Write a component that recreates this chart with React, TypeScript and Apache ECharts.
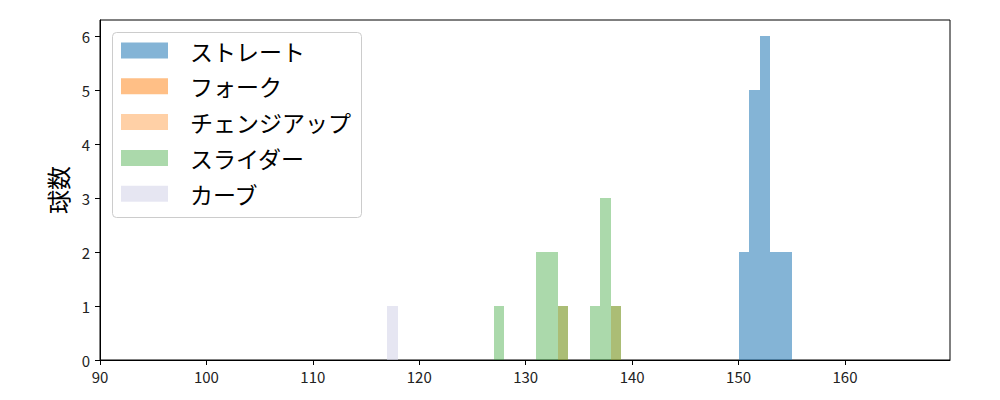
import React, { useEffect, useRef } from "react";
import * as echarts from "echarts";

const seriesNames = ["ストレート", "フォーク", "チェンジアップ", "スライダー", "カーブ"];
const seriesColors = [
  "rgba(31,119,180,0.55)",
  "rgba(255,127,14,0.5)",
  "rgba(255,127,14,0.37)",
  "rgba(44,160,44,0.4)",
  "rgba(214,214,234,0.6)",
];
const binWidth = 1;
const straightBins = [150, 151, 152, 153, 154];
const straightCounts = [2, 5, 6, 2, 2];
const forkBins: number[] = [];
const forkCounts: number[] = [];
const changeupBins = [133, 138];
const changeupCounts = [1, 1];
const sliderBins = [127, 131, 132, 133, 136, 137, 138];
const sliderCounts = [1, 2, 2, 1, 1, 3, 1];
const curveBins = [117];
const curveCounts = [1];
const xTicks = [90, 100, 110, 120, 130, 140, 150, 160];
const yTicks = [0, 1, 2, 3, 4, 5, 6];

const allBins = [straightBins, forkBins, changeupBins, sliderBins, curveBins];
const allCounts = [straightCounts, forkCounts, changeupCounts, sliderCounts, curveCounts];

const FONT = "'Noto Sans CJK JP', 'DejaVu Sans', sans-serif";

export default function App() {
  const ref = useRef<HTMLDivElement>(null);
  useEffect(() => {
    if (!ref.current) return;
    const chart = echarts.init(ref.current, null, { renderer: "svg" });
    const series = seriesNames.map((name, i) => {
      const color = seriesColors[i];
      return {
        name,
        type: "custom",
        itemStyle: { color },
        data: allBins[i].map((b, j) => [b, b + binWidth, allCounts[i][j]]),
        encode: { x: [0, 1], y: 2 },
        renderItem: (params: any, api: any) => {
          const p0 = api.coord([api.value(0), 0]);
          const p1 = api.coord([api.value(1), api.value(2)]);
          const x0 = Math.round(p0[0]);
          const x1 = Math.round(p1[0]);
          const y0 = Math.round(p0[1]);
          const y1 = Math.round(p1[1]);
          return {
            type: "rect",
            shape: { x: x0, y: y1, width: x1 - x0, height: y0 - y1 },
            style: { fill: color },
          };
        },
      };
    });
    chart.setOption({
      animation: false,
      textStyle: { fontFamily: FONT },
      grid: {
        left: 100,
        right: 50,
        top: 20,
        bottom: 40,
        show: true,
        borderColor: "#000",
        borderWidth: 1,
        backgroundColor: "transparent",
      },
      xAxis: {
        type: "value",
        min: xTicks[0],
        max: 169.87,
        interval: 10,
        axisLine: { show: true, lineStyle: { color: "#000", width: 1 } },
        axisTick: { show: true, inside: false, length: 5, lineStyle: { color: "#000" } },
        axisLabel: { color: "#222", fontSize: 15, margin: 9, fontFamily: FONT, showMaxLabel: false },
        splitLine: { show: false },
      },
      yAxis: {
        type: "value",
        min: yTicks[0],
        max: 6.3,
        interval: 1,
        name: "球数",
        nameLocation: "middle",
        nameGap: 31,
        nameTextStyle: { fontSize: 24, color: "#000", fontFamily: FONT },
        axisLine: { show: true, lineStyle: { color: "#000", width: 1 } },
        axisTick: { show: true, inside: false, length: 5, lineStyle: { color: "#000" } },
        axisLabel: { color: "#222", fontSize: 15, margin: 10, fontFamily: FONT, showMaxLabel: false },
        splitLine: { show: false },
      },
      legend: {
        orient: "vertical",
        left: 121,
        top: 39,
        padding: 0,
        itemWidth: 47,
        itemHeight: 16,
        itemGap: 12.8,
        icon: "rect",
        data: seriesNames,
        textStyle: { fontSize: 23, lineHeight: 23, color: "#000", fontFamily: FONT, padding: [0, 0, 0, 17] },
        selectedMode: false,
      },
      graphic: [
        {
          type: "rect",
          z: 3,
          shape: { x: 112.5, y: 32.5, width: 249, height: 185, r: 4 },
          style: { fill: "rgba(255,255,255,0.8)", stroke: "#cccccc", lineWidth: 1 },
        },
      ],
      series,
    });
    return () => chart.dispose();
  }, []);
  return (
    <div
      ref={ref}
      style={{ position: "fixed", left: 0, top: 0, width: 1000, height: 400, background: "#fff" }}
    />
  );
}
